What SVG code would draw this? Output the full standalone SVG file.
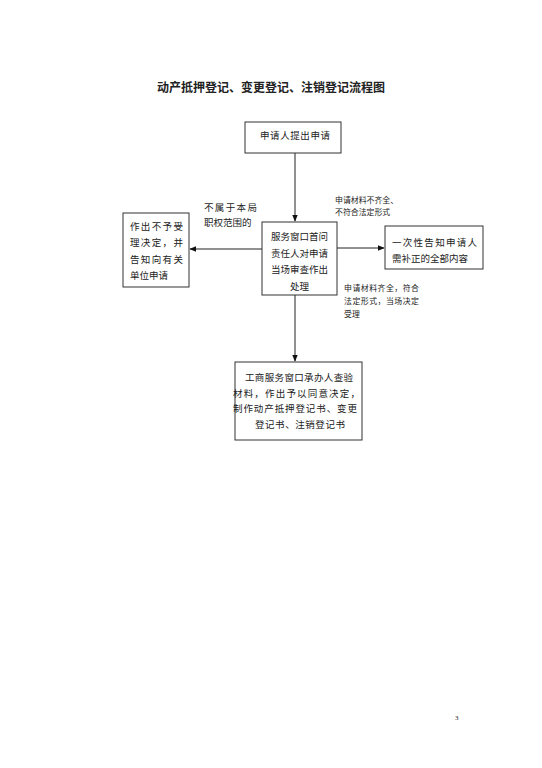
<svg xmlns="http://www.w3.org/2000/svg" width="542" height="768" viewBox="0 0 542 768">
<style>
text{font-family:"Liberation Serif","Noto Sans CJK SC",serif;fill:#222}
.box{fill:#fff;stroke:#333;stroke-width:1}
.t{font-size:9.5px}
.s{font-size:7.9px}
.line{stroke:#222;stroke-width:1;fill:none}
</style>
<defs>
<marker id="ah" viewBox="0 0 10 10" refX="9" refY="5" markerWidth="7" markerHeight="7" orient="auto" markerUnits="userSpaceOnUse">
<path d="M0,1 L10,5 L0,9 z" fill="#111"/>
</marker>
</defs>
<rect width="542" height="768" fill="#fff"/>
<text x="271" y="92" text-anchor="middle" style="font-size:12px;font-weight:bold">动产抵押登记、变更登记、注销登记流程图</text>
<g id="connectors">
<line class="line" x1="295" y1="153" x2="295" y2="221" marker-end="url(#ah)"/>
<line class="line" x1="262" y1="249" x2="190" y2="249" marker-end="url(#ah)"/>
<line class="line" x1="337" y1="248" x2="384" y2="248" marker-end="url(#ah)"/>
<line class="line" x1="295" y1="295" x2="295" y2="361" marker-end="url(#ah)"/>
</g>
<g id="n_apply">
<rect class="box" x="245" y="122" width="96" height="31"/>
<text class="t" x="260" y="139" textLength="70" lengthAdjust="spacing">申请人提出申请</text>
</g>
<g id="n_review">
<rect class="box" x="262" y="222" width="75" height="73"/>
<text class="t" x="271" y="240" textLength="57" lengthAdjust="spacing">服务窗口首问</text>
<text class="t" x="271" y="257" textLength="57" lengthAdjust="spacing">责任人对申请</text>
<text class="t" x="271" y="273" textLength="57" lengthAdjust="spacing">当场审查作出</text>
<text class="t" x="299.5" y="290" text-anchor="middle">处理</text>
</g>
<g id="n_reject">
<rect class="box" x="123" y="213" width="66" height="74"/>
<text class="t" x="130" y="230" textLength="53" lengthAdjust="spacing">作出不予受</text>
<text class="t" x="130" y="246" textLength="53" lengthAdjust="spacing">理决定，并</text>
<text class="t" x="130" y="263" textLength="53" lengthAdjust="spacing">告知向有关</text>
<text class="t" x="130" y="279">单位申请</text>
</g>
<g id="n_notify">
<rect class="box" x="385" y="226" width="98" height="43"/>
<text class="t" x="392" y="246" textLength="85" lengthAdjust="spacing">一次性告知申请人</text>
<text class="t" x="392" y="262">需补正的全部内容</text>
</g>
<g id="n_accept">
<rect class="box" x="235" y="362" width="127" height="78"/>
<text class="t" x="245" y="381" textLength="108" lengthAdjust="spacing">工商服务窗口承办人查验</text>
<text class="t" x="233" y="397" textLength="127" lengthAdjust="spacing">材料，作出予以同意决定，</text>
<text class="t" x="233" y="412" textLength="124" lengthAdjust="spacing">制作动产抵押登记书、变更</text>
<text class="t" x="255" y="428" textLength="90" lengthAdjust="spacing">登记书、注销登记书</text>
</g>
<g id="labels">
<text class="t" x="204" y="211" textLength="53" lengthAdjust="spacing">不属于本局</text>
<text class="t" x="204" y="226">职权范围的</text>
<text class="s" x="335" y="203">申请材料不齐全、</text>
<text class="s" x="335" y="215">不符合法定形式</text>
<text class="s" x="344" y="291" textLength="75" lengthAdjust="spacing">申请材料齐全，符合</text>
<text class="s" x="344" y="304" textLength="75" lengthAdjust="spacing">法定形式，当场决定</text>
<text class="s" x="344" y="317">受理</text>
</g>
<text x="455" y="720" style="font-size:7px">3</text>
</svg>
